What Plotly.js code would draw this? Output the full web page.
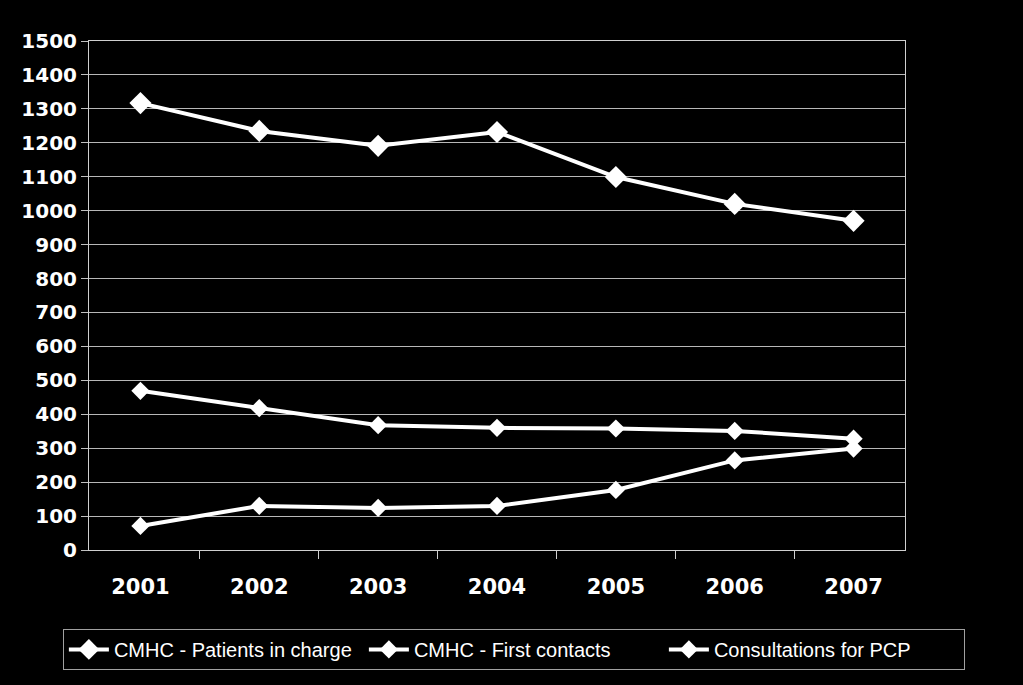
<!DOCTYPE html>
<html>
<head>
<meta charset="utf-8">
<script src="https://cdn.plot.ly/plotly-3.0.1.min.js"></script>
<style>
  body { margin: 0; background: #000; }
  #chart { width: 1023px; height: 685px; }
</style>
</head>
<body>
<div id="chart"></div>
<script>
var years = ["2001", "2002", "2003", "2004", "2005", "2006", "2007"];
var patientsInCharge = [1317, 1235, 1191, 1232, 1099, 1020, 970];
var firstContacts = [469, 418, 368, 360, 358, 351, 328];
var consultationsPCP = [71, 130, 124, 130, 177, 264, 299];

function series(name, values, msize) {
    return {
        x: years,
        y: values,
        name: name,
        type: "scatter",
        mode: "lines+markers",
        line: { color: "#ffffff", width: 4 },
        marker: { symbol: "diamond", size: msize, color: "#ffffff" }
    };
}

var data = [
    series("CMHC - Patients in charge", patientsInCharge, 17),
    series("CMHC - First contacts", firstContacts, 14),
    series("Consultations for PCP", consultationsPCP, 14)
];

var layout = {
    width: 1023,
    height: 685,
    paper_bgcolor: "#000000",
    plot_bgcolor: "#000000",
    margin: { l: 89, r: 118, t: 41, b: 135 },
    showlegend: true,
    legend: {
        orientation: "h",
        x: -0.032, xanchor: "left",
        y: -0.155, yanchor: "top",
        bordercolor: "#a0a0a0", borderwidth: 1,
        bgcolor: "#000000",
        font: { family: "Liberation Sans, sans-serif", size: 20, color: "#ffffff" },
        itemwidth: 40,
        entrywidth: 245,
        tracegroupgap: 0
    },
    xaxis: {
        type: "category",
        tickson: "boundaries",
        ticks: "outside",
        ticklen: 8,
        tickcolor: "#d0d0d0",
        ticklabelstandoff: 18,
        showline: true,
        linecolor: "#d0d0d0",
        linewidth: 1,
        mirror: true,
        showgrid: false,
        tickfont: { family: "DejaVu Sans, sans-serif", size: 21, color: "#ffffff", weight: "bold" }
    },
    yaxis: {
        range: [0, 1500],
        dtick: 100,
        ticks: "outside",
        ticklen: 7,
        tickcolor: "#c0c0c0",
        showline: true,
        linecolor: "#d0d0d0",
        linewidth: 1,
        mirror: true,
        gridcolor: "#b8b8b8",
        gridwidth: 1,
        zeroline: false,
        tickfont: { family: "DejaVu Sans, sans-serif", size: 20, color: "#ffffff", weight: "bold" }
    }
};

Plotly.newPlot("chart", data, layout, { displayModeBar: false });
</script>
</body>
</html>
